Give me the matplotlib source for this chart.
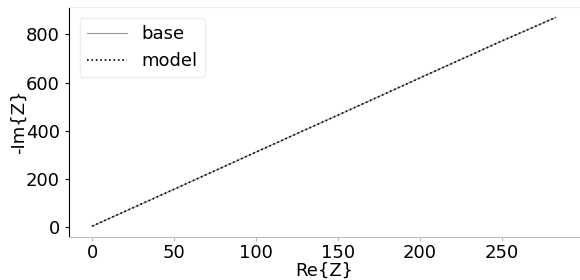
import numpy as np
import matplotlib
matplotlib.use("Agg")
import matplotlib.pyplot as plt

# impedance values
re_z = [0, 50, 100, 150, 200, 250, 283]
im_z = [5, 158, 312, 465, 619, 772, 870]

plt.rcParams['font.size'] = 13

fig, ax = plt.subplots(figsize=(5.8, 2.8), dpi=100)
fig.subplots_adjust(left=0.119, right=0.998, bottom=0.155, top=0.975)

ax.plot(re_z, im_z, color='#999999', lw=0.8, label='base')
ax.plot(re_z, im_z, color='black', lw=1.2, ls=':', label='model')

ax.set_xlabel('Re{Z}', labelpad=-0.5)
ax.set_ylabel('-Im{Z}', labelpad=-1)
ax.set_xticks([0, 50, 100, 150, 200, 250])
ax.set_yticks([0, 200, 400, 600, 800])
ax.tick_params(length=3)
ax.tick_params(axis='x', color='#bbbbbb', pad=2.5)

ax.spines['top'].set_color('#eeeeee')
ax.spines['right'].set_visible(False)
ax.spines['bottom'].set_color('#bbbbbb')

ax.legend(loc='upper left', fontsize=13, handlelength=2.2, framealpha=1,
          edgecolor='#eeeeee', borderaxespad=0.6)

plt.savefig('out.png')
